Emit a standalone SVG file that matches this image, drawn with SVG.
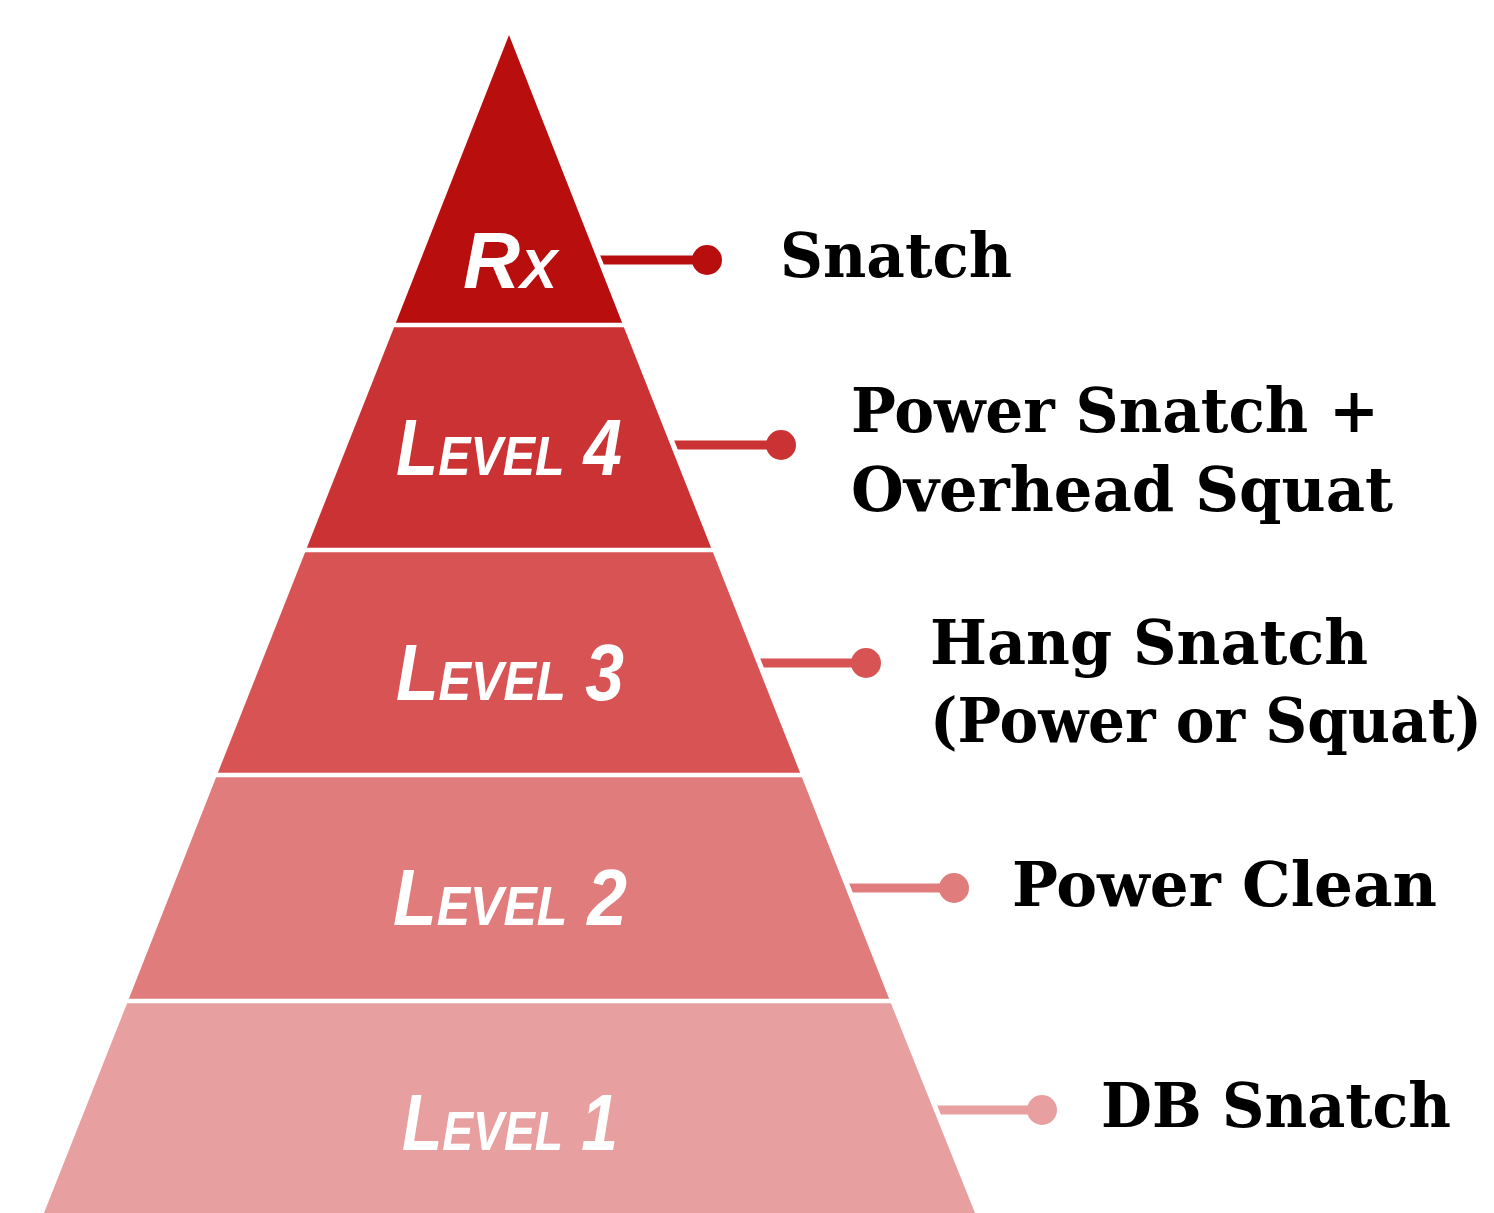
<svg xmlns="http://www.w3.org/2000/svg" width="1494" height="1213" viewBox="0 0 1494 1213">
  <style>
    .tier-label { font-family: "Liberation Sans", Arial, sans-serif; font-weight: bold; font-style: italic; font-variant: small-caps; fill: #ffffff; text-anchor: middle; }
    .move { font-family: "DejaVu Serif Condensed", "DejaVu Serif", "Liberation Serif", serif; font-stretch: semi-condensed; font-weight: bold; font-size: 61px; fill: #000000; }
    .gap { stroke: #ffffff; stroke-width: 4.5; }
    .rx { fill: #b90e0e; }
    .l4 { fill: #ca3233; }
    .l3 { fill: #d85354; }
    .l2 { fill: #e07c7c; }
    .l1 { fill: #e89fa0; }
  </style>
  <rect width="1494" height="1213" fill="#ffffff"/>

  <!-- pyramid tiers, apex (509,35), base 44..975 at y=1213 -->
  <g id="tier-rx">
    <polygon class="rx" points="509,35 623,325 395,325"/>
    <text class="tier-label" x="510" y="288" font-size="80" textLength="94" lengthAdjust="spacingAndGlyphs">Rx</text>
  </g>
  <g id="tier-level4">
    <polygon class="l4" points="395,325 623,325 712,550 306,550"/>
    <text class="tier-label" x="509" y="475" font-size="80" textLength="226" lengthAdjust="spacingAndGlyphs">Level 4</text>
  </g>
  <g id="tier-level3">
    <polygon class="l3" points="306,550 712,550 801,775 217,775"/>
    <text class="tier-label" x="510" y="700" font-size="80" textLength="228" lengthAdjust="spacingAndGlyphs">Level 3</text>
  </g>
  <g id="tier-level2">
    <polygon class="l2" points="217,775 801,775 890,1001 128,1001"/>
    <text class="tier-label" x="510" y="925" font-size="80" textLength="234" lengthAdjust="spacingAndGlyphs">Level 2</text>
  </g>
  <g id="tier-level1">
    <polygon class="l1" points="128,1001 890,1001 975,1213 44,1213"/>
    <text class="tier-label" x="510" y="1150" font-size="80" textLength="216" lengthAdjust="spacingAndGlyphs">Level 1</text>
  </g>

  <!-- white separators between tiers -->
  <g id="separators">
    <line class="gap" x1="300" y1="325" x2="720" y2="325"/>
    <line class="gap" x1="200" y1="550" x2="820" y2="550"/>
    <line class="gap" x1="120" y1="775" x2="900" y2="775"/>
    <line class="gap" x1="40" y1="1001" x2="990" y2="1001"/>
  </g>

  <!-- leader lines with end dots -->
  <g id="connectors">
    <polygon class="rx" points="600.2,255.5 707,255.5 707,264.5 603.8,264.5"/>
    <circle class="rx" cx="707" cy="260" r="15"/>
    <polygon class="l4" points="674.2,440.5 781,440.5 781,449.5 677.8,449.5"/>
    <circle class="l4" cx="781" cy="445" r="15"/>
    <polygon class="l3" points="760.2,658.5 866,658.5 866,667.5 763.8,667.5"/>
    <circle class="l3" cx="866" cy="663" r="15"/>
    <polygon class="l2" points="849.2,883.5 954,883.5 954,892.5 852.8,892.5"/>
    <circle class="l2" cx="954" cy="888" r="15"/>
    <polygon class="l1" points="937.2,1105.5 1042,1105.5 1042,1114.5 940.8,1114.5"/>
    <circle class="l1" cx="1042" cy="1110" r="15"/>
  </g>

  <!-- movement names -->
  <g id="label-rx">
    <text class="move" x="780" y="277" textLength="232" lengthAdjust="spacingAndGlyphs">Snatch</text>
  </g>
  <g id="label-level4">
    <text class="move" x="851" y="432" textLength="528" lengthAdjust="spacingAndGlyphs">Power Snatch +</text>
    <text class="move" x="851" y="511" textLength="542" lengthAdjust="spacingAndGlyphs">Overhead Squat</text>
  </g>
  <g id="label-level3">
    <text class="move" x="930" y="664" textLength="438" lengthAdjust="spacingAndGlyphs">Hang Snatch</text>
    <text class="move" x="930" y="742" textLength="552" lengthAdjust="spacingAndGlyphs">(Power or Squat)</text>
  </g>
  <g id="label-level2">
    <text class="move" x="1012" y="906" textLength="425" lengthAdjust="spacingAndGlyphs">Power Clean</text>
  </g>
  <g id="label-level1">
    <text class="move" x="1101" y="1127" textLength="350" lengthAdjust="spacingAndGlyphs">DB Snatch</text>
  </g>
</svg>
